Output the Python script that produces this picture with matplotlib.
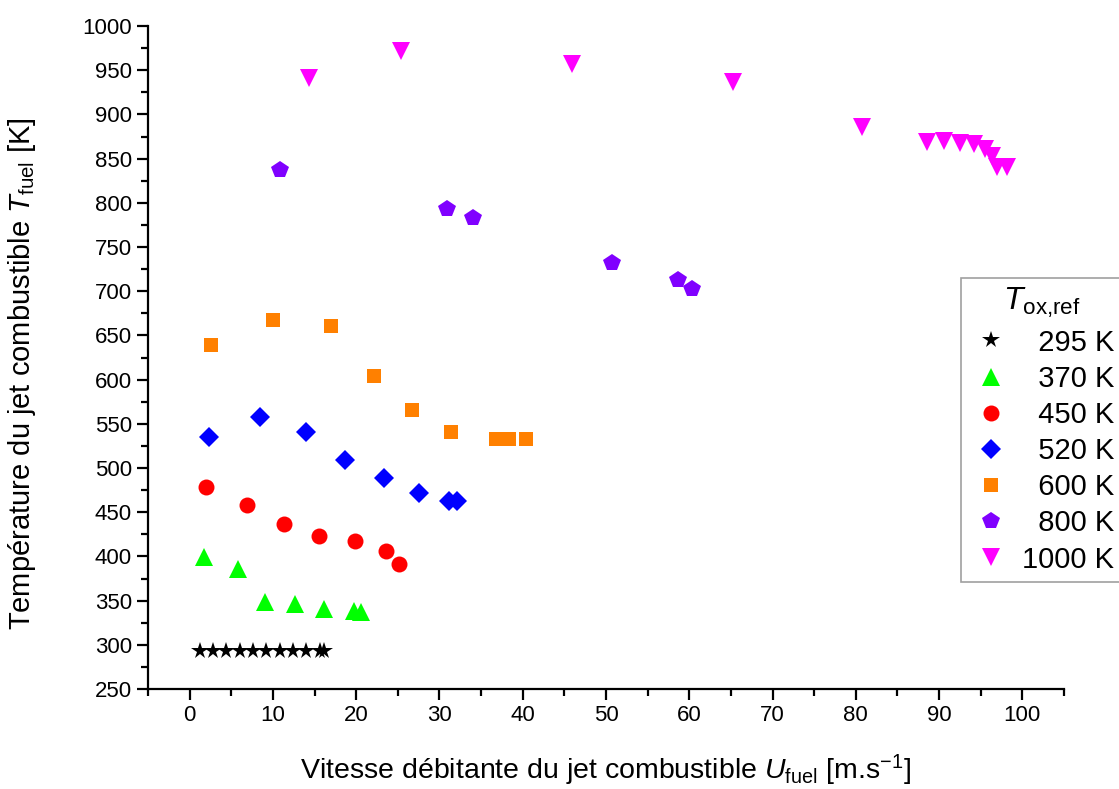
import matplotlib
matplotlib.use('Agg')
import matplotlib.pyplot as plt
from matplotlib.ticker import MultipleLocator

plt.rcParams['font.family'] = ['Liberation Sans', 'DejaVu Sans']
plt.rcParams['mathtext.fontset'] = 'custom'
plt.rcParams['mathtext.rm'] = 'Liberation Sans'
plt.rcParams['mathtext.it'] = 'Liberation Sans:italic'

# 295 K
x295 = [1.2, 2.8, 4.4, 6.0, 7.6, 9.2, 10.8, 12.4, 14.0, 15.6, 16.1]
y295 = [293, 293, 293, 293, 293, 293, 293, 293, 293, 293, 293]
# 370 K
x370 = [1.7, 5.8, 9.0, 12.7, 16.1, 19.7, 20.6]
y370 = [399, 386, 349, 346, 341, 338, 337]
# 450 K
x450 = [2.0, 6.9, 11.3, 15.5, 19.8, 23.6, 25.1]
y450 = [479, 458, 437, 423, 417, 406, 391]
# 520 K
x520 = [2.3, 8.5, 14.0, 18.7, 23.3, 27.5, 31.1, 32.1]
y520 = [535, 558, 541, 509, 489, 472, 463, 463]
# 600 K
x600 = [2.6, 10.0, 17.0, 22.1, 26.7, 31.4, 36.8, 38.3, 40.4]
y600 = [639, 667, 661, 604, 566, 541, 533, 533, 533]
# 800 K
x800 = [10.9, 30.9, 34.0, 50.7, 58.6, 60.3]
y800 = [837, 793, 783, 732, 713, 703]
# 1000 K
x1000 = [14.3, 25.4, 45.9, 65.3, 80.8, 88.6, 90.6, 92.5, 94.2, 95.5, 96.4, 97.0, 98.2]
y1000 = [941, 972, 957, 937, 886, 869, 870, 868, 867, 861, 853, 841, 841]

series = [
    (x295, y295, '*', 'black', 13, '295 K'),
    (x370, y370, '^', '#00ff00', 13, '370 K'),
    (x450, y450, 'o', '#ff0000', 11.5, '450 K'),
    (x520, y520, 'D', '#0000ff', 10.5, '520 K'),
    (x600, y600, 's', '#ff8000', 10, '600 K'),
    (x800, y800, 'p', '#8000ff', 13, '800 K'),
    (x1000, y1000, 'v', '#ff00ff', 13, '1000 K'),
]

fig = plt.figure(figsize=(11.19, 7.89), dpi=100)
ax = fig.add_axes([0.1323, 0.1267, 0.8185, 0.8403])

for xs, ys, m, c, ms, lab in series:
    lab = lab if len(lab) == 6 else '\u2007' + lab
    ax.plot(xs, ys, linestyle='none', marker=m, color=c, markersize=ms,
            markeredgewidth=0, label=lab)

ax.set_xlim(-5, 105)
ax.set_ylim(250, 1000)
ax.xaxis.set_major_locator(MultipleLocator(10))
ax.xaxis.set_minor_locator(MultipleLocator(5))
ax.yaxis.set_major_locator(MultipleLocator(50))
ax.yaxis.set_minor_locator(MultipleLocator(25))
ax.set_xticks(range(0, 101, 10))

for s in ['top', 'right']:
    ax.spines[s].set_visible(False)
for s in ['left', 'bottom']:
    ax.spines[s].set_linewidth(1.6)
ax.tick_params(which='major', direction='out', length=8, width=1.6, labelsize=16)
ax.tick_params(which='minor', direction='out', length=5, width=1.6)

ax.set_xlabel('Vitesse débitante du jet combustible $U_{\\mathrm{fuel}}$ [m.s$^{-1}$]',
              fontsize=20.5, labelpad=19)
ax.set_ylabel('Température du jet combustible $T_{\\mathrm{fuel}}$ [K]',
              fontsize=21, va='center')
ax.yaxis.set_label_coords(-0.1376, 0.476)

leg = ax.legend(loc='upper left', bbox_to_anchor=(0.8876, 0.62), fontsize=21,
                title='$T_{\\mathrm{ox{,}ref}}$', title_fontsize=23,
                frameon=True, fancybox=False, edgecolor='#888888',
                handletextpad=0.3, labelspacing=0.28, borderpad=0.28,
                handlelength=1.5, alignment='center', borderaxespad=0)
leg.get_frame().set_linewidth(1.2)

fig.savefig('out.png', dpi=100)
